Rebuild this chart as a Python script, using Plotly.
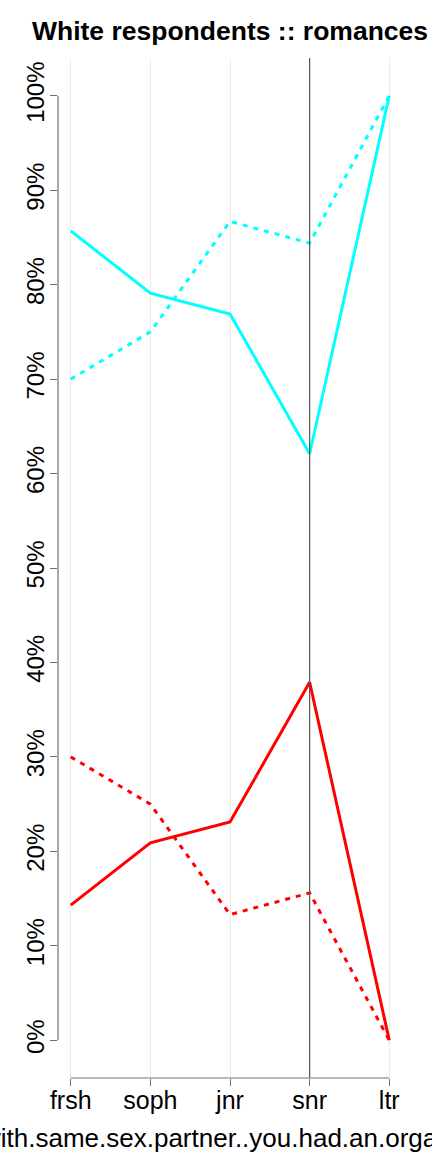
import plotly.graph_objects as go

categories = ["frsh", "soph", "jnr", "snr", "ltr"]
cyan_solid = [0.857, 0.791, 0.769, 0.621, 1.0]
red_solid = [0.143, 0.209, 0.231, 0.379, 0.0]
cyan_dotted = [0.700, 0.750, 0.867, 0.844, 1.0]
red_dotted = [0.300, 0.250, 0.133, 0.156, 0.0]
y_ticks = [0.0, 0.1, 0.2, 0.3, 0.4, 0.5, 0.6, 0.7, 0.8, 0.9, 1.0]
y_tick_labels = [f"{int(round(v * 100))}%" for v in y_ticks]
highlight = "snr"
title_text = "White respondents :: romances"
x_title = "with.same.sex.partner..you.had.an.orgasm."

xpos = list(range(1, len(categories) + 1))
hl = xpos[categories.index(highlight)]

fig = go.Figure()
series = [
    (cyan_dotted, "#00FFFF", "5px,6px"),
    (red_dotted, "#FF0000", "5px,6px"),
    (cyan_solid, "#00FFFF", "solid"),
    (red_solid, "#FF0000", "solid"),
]
for vals, col, dash in series:
    fig.add_trace(go.Scatter(x=xpos, y=vals, mode="lines",
                             line=dict(color=col, width=3, dash=dash),
                             showlegend=False, hoverinfo="skip"))

axis_col = "#707070"
fig.add_shape(type="line", xref="x", yref="paper", x0=hl, x1=hl, y0=0, y1=1,
              line=dict(color="#555555", width=1.2), layer="above")
fig.add_shape(type="line", xref="paper", yref="y", x0=0, x1=0, y0=y_ticks[0], y1=y_ticks[-1],
              line=dict(color=axis_col, width=1.2))
fig.add_shape(type="line", xref="x", yref="paper", x0=xpos[0], x1=xpos[-1], y0=0, y1=0,
              line=dict(color=axis_col, width=1.2))

fig.update_layout(
    width=432, height=1152,
    margin=dict(l=58, r=30, t=58, b=74, autoexpand=False),
    paper_bgcolor="white", plot_bgcolor="white",
    font=dict(family="Liberation Sans, Arial, sans-serif", color="black", size=25),
    title=dict(text=f"<b>{title_text}</b>", x=0.5, xref="paper", xanchor="center",
               y=1 - 31 / 1152, yref="container", yanchor="middle",
               font=dict(size=26.5, color="black")),
    xaxis=dict(range=[0.84, 5.16], tickvals=xpos, ticktext=categories,
               showgrid=True, gridcolor="#EFEBDD", gridwidth=1,
               zeroline=False, showline=False, automargin=False,
               ticks="outside", ticklen=7, tickcolor=axis_col, tickwidth=1.2,
               ticklabelstandoff=-7,
               tickfont=dict(size=25)),
    yaxis=dict(range=[-0.04, 1.04], tickvals=y_ticks, ticktext=y_tick_labels,
               tickangle=-90, showgrid=False, zeroline=False, showline=False,
               automargin=False,
               ticks="outside", ticklen=7, tickcolor=axis_col, tickwidth=1.2,
               ticklabelstandoff=-4,
               tickfont=dict(size=24)),
)
fig.add_annotation(text=x_title, xref="paper", yref="paper", x=0.5, y=-60 / 1020,
                   xanchor="center", yanchor="middle", showarrow=False,
                   font=dict(size=26, color="black"))

fig.write_html("out.html", config={"displayModeBar": False},
               post_script="document.body.style.margin='0';document.body.style.overflow='hidden';")
